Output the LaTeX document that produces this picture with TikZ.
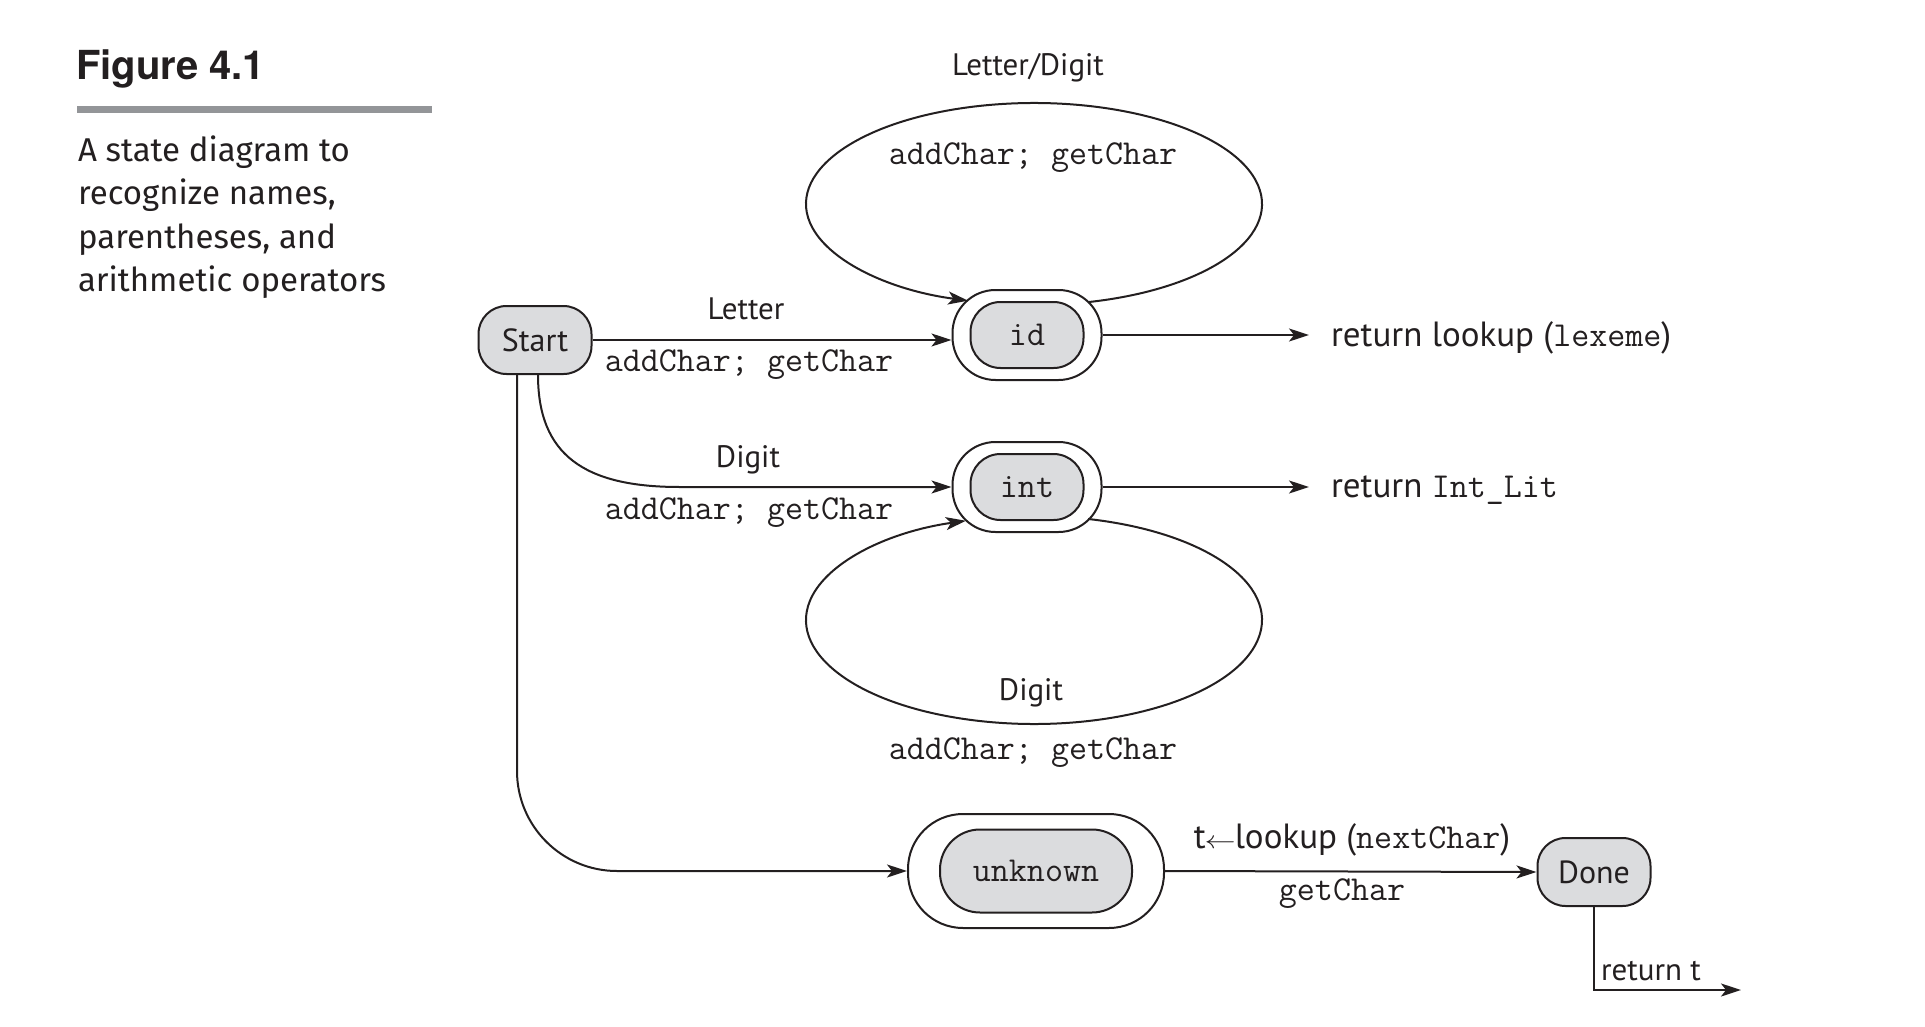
\documentclass[tikz,border=0pt]{standalone}
\usepackage{fontspec}
\setmainfont{PT Sans}
\newfontfamily\capfont{Fira Sans}
\newfontfamily\headfont{TeX Gyre Heros}
\usetikzlibrary{arrows.meta,calc}
\definecolor{ink}{RGB}{35,31,32}
\definecolor{statefill}{RGB}{219,220,222}
\definecolor{rulegray}{RGB}{147,149,152}
\begin{document}
\begin{tikzpicture}[x=1pt,y=-1pt,
  line width=2pt,
  conn/.style={draw=ink,-{Stealth[length=20pt,width=13pt,inset=5pt]}},
  lbl/.style={text=ink,font=\fontsize{31}{36}\selectfont,inner sep=0pt},
  biglbl/.style={text=ink,font=\fontsize{35}{40}\selectfont,inner sep=0pt},
  code/.style={text=ink,font=\fontsize{35}{40}\selectfont\ttfamily,inner sep=0pt},
  captext/.style={text=ink,font=\capfont\fontsize{33}{43}\selectfont,inner sep=0pt,anchor=base west},
  plainstate/.style={draw=ink,fill=statefill,rounded corners=28pt,
    minimum width=113pt,minimum height=68pt,inner sep=0pt,text=ink,
    font=\fontsize{32}{36}\selectfont},
  ring/.style={draw=ink,fill=white,rounded corners=43pt,
    minimum width=149pt,minimum height=90pt,inner sep=0pt},
  core/.style={draw=ink,fill=statefill,rounded corners=30pt,
    minimum width=113pt,minimum height=66pt,inner sep=0pt,text=ink,
    font=\fontsize{35}{40}\selectfont\ttfamily},
]
\useasboundingbox (0,0) rectangle (1925,1027);

% heading and caption
\node[anchor=base west,text=ink,inner sep=0pt,
  font=\headfont\bfseries\fontsize{40}{44}\selectfont] (fig) at (75,80) {Figure 4.1};
\draw[rulegray,line width=7pt] (77,110) -- (432,110);
\node[captext] (cap1) at (77,162) {A state diagram to};
\node[captext] (cap2) at (77,205) {recognize names,};
\node[captext] (cap3) at (77,248) {parentheses, and};
\node[captext] (cap4) at (77,291) {arithmetic operators};

% states
\node[plainstate] (start) at (535,340) {Start};
\node[ring] (idout) at (1027,335) {};
\node[core] (id) at (1027,335) {id};
\node[ring] (intout) at (1027,487) {};
\node[core] (int) at (1027,487) {int};
\node[ring,minimum width=256pt,minimum height=114pt,rounded corners=55pt] (unkout) at (1036,871) {};
\node[core,minimum width=192pt,minimum height=83pt,rounded corners=40pt] (unk) at (1036,871) {unknown};
\node[plainstate] (done) at (1594,872) {Done};

% self loops
\coordinate (topC) at (1034,204);
\coordinate (botC) at (1034,620);
\draw[conn] ($(topC)+(76.3:228 and 101)$) arc[start angle=76.3,end angle=-253.2,x radius=228,y radius=101];
\draw[conn] ($(botC)+(-76.3:228 and 104)$) arc[start angle=-76.3,end angle=252.6,x radius=228,y radius=104];

% exits
\node[biglbl,anchor=base west] (retid) at (1330,346) {return lookup (\texttt{lexeme})};
\node[biglbl,anchor=base west] (retint) at (1330,497) {return \texttt{Int\_Lit}};
\node[lbl,anchor=base west] (rett) at (1600,980) {return t};
\coordinate (tout) at (1741,990);

% transitions
\draw[conn] (start.east) -- (start.east -| idout.west);
\draw[conn] ($(start.south)+(3,0)$) .. controls +(0,80) and +(-95,0) .. ($(intout.west)+(-272,0)$) -- (intout.west);
\draw[conn,rounded corners=100pt] ($(start.south)+(-18,0)$) |- (unkout.west);
\draw[conn] (idout.east) -- ($(retid.west |- idout.east)+(-21,0)$);
\draw[conn] (intout.east) -- ($(retint.west |- intout.east)+(-21,0)$);
\draw[conn] (unkout.east) -- (done.west);
\draw[conn] (done.south) |- (tout);

% labels
\node[lbl,anchor=base] (lbLD) at (1028,76) {Letter/Digit};
\node[code,anchor=base] (acTop) at (1033,165) {addChar; getChar};
\node[lbl,anchor=base] (lbL) at (746,319) {Letter};
\node[code,anchor=base] (acL) at (749,371) {addChar; getChar};
\node[lbl,anchor=base] (lbD) at (748,467) {Digit};
\node[code,anchor=base] (acD) at (749,519) {addChar; getChar};
\node[lbl,anchor=base] (lbD2) at (1031,700) {Digit};
\node[code,anchor=base] (acD2) at (1033,759) {addChar; getChar};
\node[biglbl,anchor=base] (lbT) at (1352,848) {t\kern-1pt\scalebox{1.25}[1]{$\leftarrow$}\kern-1pt lookup (\texttt{nextChar})};
\node[code,anchor=base] (gcT) at (1342,900) {getChar};
\end{tikzpicture}
\end{document}
